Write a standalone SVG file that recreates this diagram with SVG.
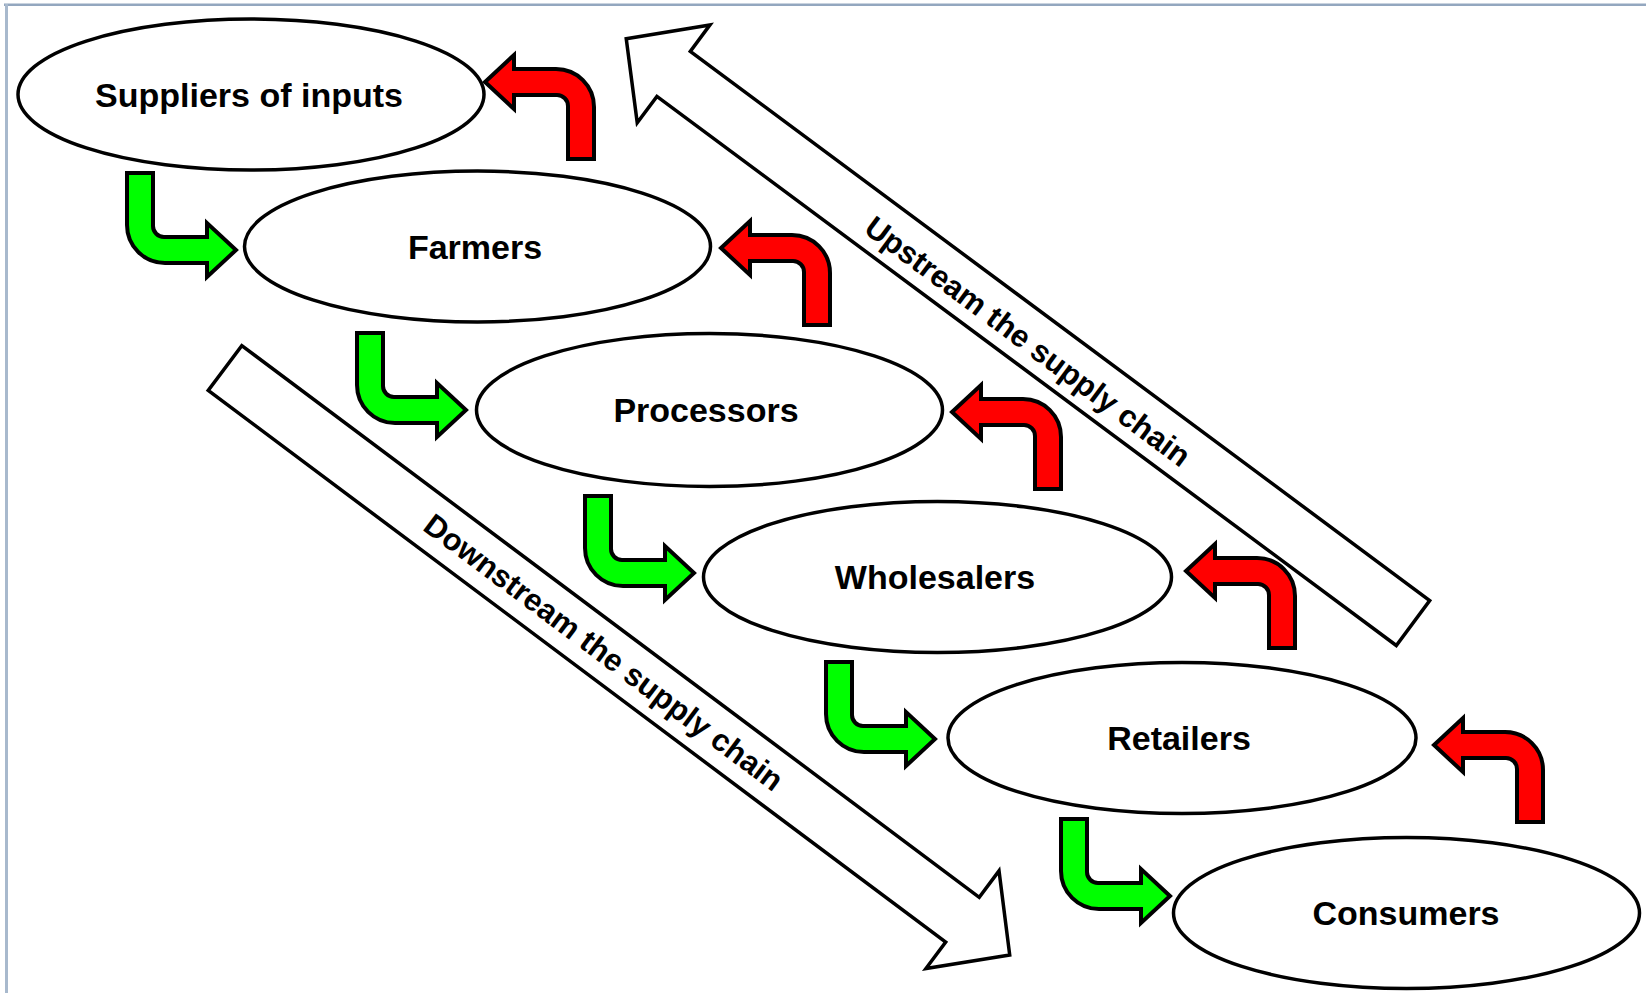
<svg xmlns="http://www.w3.org/2000/svg" width="1646" height="993" viewBox="0 0 1646 993" xmlns:xlink="http://www.w3.org/1999/xlink">
<style>
.node ellipse{fill:#ffffff;stroke:#000000;stroke-width:3.5}
.label{font-family:"Liberation Sans",Arial,Helvetica,sans-serif;font-weight:bold;font-size:34px;fill:#000000;text-anchor:middle}
.flowlabel{font-family:"Liberation Sans",Arial,Helvetica,sans-serif;font-weight:bold;font-size:31px;fill:#000000;text-anchor:middle}
.green{fill:#00ff00;stroke:#000000;stroke-width:4;stroke-linejoin:miter}
.red{fill:#ff0000;stroke:#000000;stroke-width:4;stroke-linejoin:miter}
.big{fill:#ffffff;stroke:#000000;stroke-width:3.5;stroke-linejoin:miter}
</style>
<defs>
<path id="bent" d="M0,0 H26 V53 A11,11 0 0 0 37,64 H80 V50 L109,77 L80,104 V90 H38 A38,38 0 0 1 0,52 Z"/>
<path id="hollow" d="M0,-28 H921 V-61 L980,0 L921,61 V28 H0 Z"/>
</defs>
<rect x="0" y="0" width="1646" height="993" fill="#ffffff"/>
<rect x="4" y="3.5" width="1642" height="2.5" fill="#93a7bf"/>
<rect x="5" y="4" width="3" height="989" fill="#a8b9cd"/>

<g id="connectors">
  <g id="flow-arrows">
    <use xlink:href="#hollow" href="#hollow" class="big" transform="translate(1413,623) rotate(216.6)"/>
    <use xlink:href="#hollow" href="#hollow" class="big" transform="translate(225,368) rotate(36.8)"/>
    <text class="flowlabel" transform="translate(1028,341) rotate(36.6)" y="11">Upstream the supply chain</text>
    <text class="flowlabel" transform="translate(604,652) rotate(36.8)" y="11">Downstream the supply chain</text>
  </g>
  <g id="green-arrows">
    <use xlink:href="#bent" href="#bent" class="green" transform="translate(127,173)"/>
    <use xlink:href="#bent" href="#bent" class="green" transform="translate(357,333)"/>
    <use xlink:href="#bent" href="#bent" class="green" transform="translate(585,496)"/>
    <use xlink:href="#bent" href="#bent" class="green" transform="translate(826,662)"/>
    <use xlink:href="#bent" href="#bent" class="green" transform="translate(1061,819)"/>
  </g>
  <g id="red-arrows">
    <use xlink:href="#bent" href="#bent" class="red" transform="translate(594,159) rotate(180)"/>
    <use xlink:href="#bent" href="#bent" class="red" transform="translate(830,325) rotate(180)"/>
    <use xlink:href="#bent" href="#bent" class="red" transform="translate(1061,489) rotate(180)"/>
    <use xlink:href="#bent" href="#bent" class="red" transform="translate(1295,648) rotate(180)"/>
    <use xlink:href="#bent" href="#bent" class="red" transform="translate(1543,822) rotate(180)"/>
  </g>
</g>

<g id="suppliers" class="node">
  <ellipse cx="251" cy="94.5" rx="233" ry="75.5"/>
  <text class="label" x="249" y="106.5">Suppliers of inputs</text>
</g>
<g id="farmers" class="node">
  <ellipse cx="477.5" cy="246.5" rx="233" ry="75.5"/>
  <text class="label" x="475" y="258.5">Farmers</text>
</g>
<g id="processors" class="node">
  <ellipse cx="709.5" cy="410" rx="233" ry="76.5"/>
  <text class="label" x="706" y="422">Processors</text>
</g>
<g id="wholesalers" class="node">
  <ellipse cx="937.5" cy="577" rx="234" ry="75.5"/>
  <text class="label" x="935" y="589">Wholesalers</text>
</g>
<g id="retailers" class="node">
  <ellipse cx="1182" cy="738" rx="234" ry="75.5"/>
  <text class="label" x="1179" y="750">Retailers</text>
</g>
<g id="consumers" class="node">
  <ellipse cx="1406.5" cy="913" rx="233" ry="75.5"/>
  <text class="label" x="1406" y="925">Consumers</text>
</g>
</svg>
